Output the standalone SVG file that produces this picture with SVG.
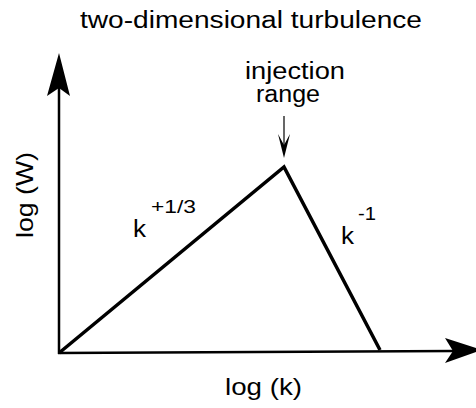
<svg xmlns="http://www.w3.org/2000/svg" width="476" height="408" viewBox="0 0 476 408">
<style>
text{font-family:"Liberation Sans",Arial,sans-serif;fill:#000}
.axis{stroke:#000;stroke-width:2.5;fill:none}
.curve{stroke:#000;stroke-width:3.5;fill:none;stroke-linejoin:miter}
.head{fill:#000;stroke:none}
</style>
<rect width="476" height="408" fill="#fff"/>
<text id="title" x="80" y="28" font-size="23" textLength="342" lengthAdjust="spacingAndGlyphs">two-dimensional turbulence</text>
<g id="connectors">
<line class="axis" x1="59" y1="354" x2="59" y2="88"/>
<polygon class="head" points="59,53 70,96 59,88 47,96"/>
<line class="axis" x1="58" y1="353" x2="454" y2="351"/>
<polygon class="head" points="482,350 445,363 453,351 445,338"/>
<line stroke="#000" stroke-width="1.2" x1="284" y1="116" x2="284" y2="146"/>
<polygon class="head" points="284,158 290,134 284,145 278,134"/>
</g>
<g id="spectrum">
<polyline class="curve" points="59,353 284,167 380,350"/>
</g>
<g id="injection">
<text x="245" y="79" font-size="23" textLength="100" lengthAdjust="spacingAndGlyphs">injection</text>
<text x="256" y="102" font-size="23" textLength="64" lengthAdjust="spacingAndGlyphs">range</text>
</g>
<g id="ylabel">
<text transform="translate(33,238) rotate(-90)" font-size="24" textLength="86" lengthAdjust="spacingAndGlyphs">log (W)</text>
</g>
<g id="xlabel">
<text x="225" y="395" font-size="24" textLength="77" lengthAdjust="spacingAndGlyphs">log (k)</text>
</g>
<g id="slope-left">
<text x="133" y="237" font-size="23" textLength="13" lengthAdjust="spacingAndGlyphs">k</text>
<text x="151" y="213" font-size="19" textLength="45" lengthAdjust="spacingAndGlyphs">+1/3</text>
</g>
<g id="slope-right">
<text x="341" y="244" font-size="23" textLength="13" lengthAdjust="spacingAndGlyphs">k</text>
<text x="358" y="220" font-size="19" textLength="18" lengthAdjust="spacingAndGlyphs">-1</text>
</g>
</svg>
